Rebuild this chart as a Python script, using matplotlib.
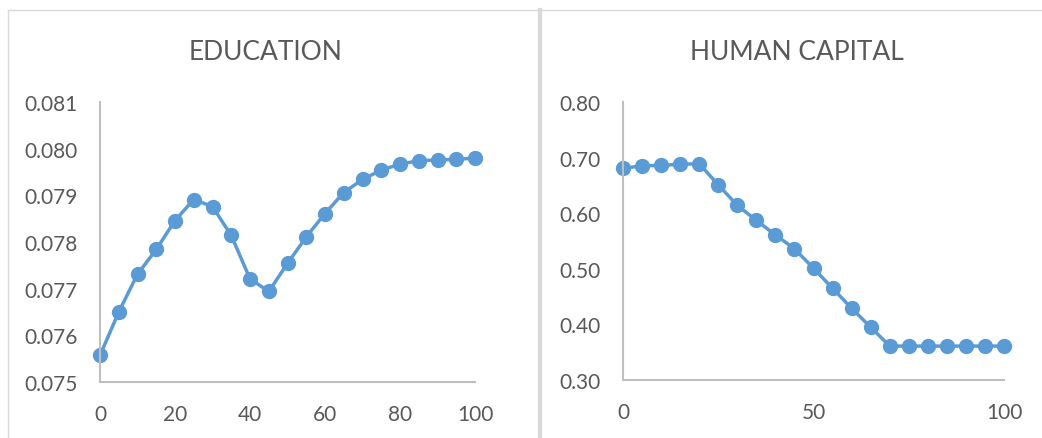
import matplotlib.pyplot as plt
from matplotlib.lines import Line2D

x = [0, 5, 10, 15, 20, 25, 30, 35, 40, 45, 50, 55, 60, 65, 70, 75, 80, 85, 90, 95, 100]

education = [0.07557, 0.0765, 0.07731, 0.07784, 0.07846, 0.07891, 0.07876,
             0.07814, 0.07721, 0.07694, 0.07754, 0.07811, 0.07861, 0.07906,
             0.07934, 0.07954, 0.07967, 0.07974, 0.07976, 0.07977, 0.0798]

human_capital = [0.681, 0.685, 0.686, 0.688, 0.689, 0.651, 0.614, 0.587,
                 0.561, 0.536, 0.501, 0.465, 0.429, 0.395, 0.361, 0.361,
                 0.361, 0.361, 0.361, 0.361, 0.361]

edu_ticks = [0.075, 0.076, 0.077, 0.078, 0.079, 0.080, 0.081]
hc_ticks = [0.30, 0.40, 0.50, 0.60, 0.70, 0.80]

blue = "#5B9BD5"
text_gray = "#595959"
axis_gray = "#BFBFBF"
border_gray = "#D9D9D9"

plt.rcParams["font.family"] = ["Lato", "DejaVu Sans"]

W, H = 1042, 439
fig = plt.figure(figsize=(W / 100, H / 100), dpi=100)


def px_axes(x0, x1, ytop, ybot):
    return fig.add_axes([x0 / W, (H - ybot) / H, (x1 - x0) / W, (ybot - ytop) / H])


def style(ax):
    for s in ["top", "right"]:
        ax.spines[s].set_visible(False)
    for s in ["left", "bottom"]:
        ax.spines[s].set_color(axis_gray)
        ax.spines[s].set_linewidth(1.5)
    ax.tick_params(length=0, labelsize=15, labelcolor=text_gray)
    ax.tick_params(axis="y", pad=16)
    ax.tick_params(axis="x", pad=16)


ax1 = px_axes(100, 475, 103, 383)
ax1.plot(x, education, color=blue, lw=2.5, marker="o", ms=10, clip_on=False)
ax1.set_xlim(0, 100)
ax1.set_ylim(0.075, 0.081)
ax1.set_xticks([0, 20, 40, 60, 80, 100])
ax1.set_yticks(edu_ticks)
ax1.set_yticklabels([f"{v:.3f}" for v in edu_ticks])
style(ax1)

ax2 = px_axes(623, 1004, 103, 381)
ax2.plot(x, human_capital, color=blue, lw=2.5, marker="o", ms=10, clip_on=False)
ax2.set_xlim(0, 100)
ax2.set_ylim(0.30, 0.80)
ax2.set_xticks([0, 50, 100])
ax2.set_yticks(hc_ticks)
ax2.set_yticklabels([f"{v:.2f}" for v in hc_ticks])
style(ax2)

fig.text(266 / W, 1 - 52 / H, "EDUCATION", ha="center", va="center",
         fontsize=19, color=text_gray)
fig.text(797 / W, 1 - 52 / H, "HUMAN CAPITAL", ha="center", va="center",
         fontsize=19, color=text_gray)

# panel borders
fig.add_artist(Line2D([8 / W, 1], [1 - 11 / H, 1 - 11 / H], color=border_gray, lw=1))
fig.add_artist(Line2D([8 / W, 8 / W], [0, 1 - 11 / H], color=border_gray, lw=1))
fig.add_artist(Line2D([540 / W, 540 / W], [0, 1 - 11 / H], color=border_gray, lw=3))

fig.savefig("out.png", dpi=100)
